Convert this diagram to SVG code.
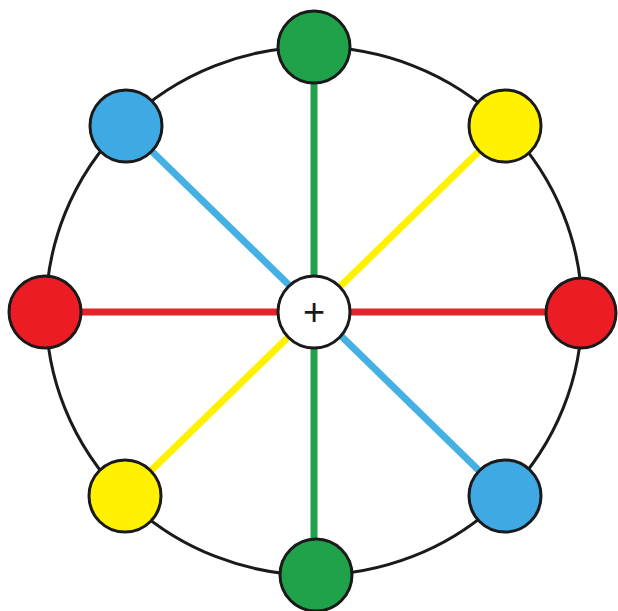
<svg xmlns="http://www.w3.org/2000/svg" width="618" height="611" viewBox="0 0 618 611">
<style>
.node{stroke:#1a1a1a;stroke-width:3}
.red{fill:#ec1c24}.green{fill:#1fa24a}.blue{fill:#3fa9e4}.yellow{fill:#fff100}
.ln{stroke-width:7;fill:none}
</style>
<rect width="618" height="611" fill="#fff"/>
<ellipse cx="314" cy="311" rx="268" ry="264" fill="none" stroke="#1a1a1a" stroke-width="3"/>
<g id="connectors">
<line class="ln" x1="45" y1="312" x2="581" y2="312" stroke="#e3242b"/>
<line class="ln" x1="314" y1="48" x2="314" y2="575" stroke="#1fa24a"/>
<line class="ln" x1="126" y1="126" x2="505" y2="496" stroke="#45b0e3" stroke-width="8"/>
<line class="ln" x1="505" y1="126" x2="125" y2="496" stroke="#fff100"/>
</g>
<g id="n-top"><circle class="node green" cx="314" cy="47" r="36"/></g>
<g id="n-bottom"><circle class="node green" cx="316" cy="575" r="36"/></g>
<g id="n-left"><circle class="node red" cx="45" cy="312" r="36"/></g>
<g id="n-right"><circle class="node red" cx="581" cy="313" r="35"/></g>
<g id="n-tl"><circle class="node blue" cx="126" cy="126" r="36"/></g>
<g id="n-tr"><circle class="node yellow" cx="505" cy="126" r="36"/></g>
<g id="n-bl"><circle class="node yellow" cx="125" cy="496" r="36"/></g>
<g id="n-br"><circle class="node blue" cx="505" cy="496" r="36"/></g>
<g id="n-center">
<circle cx="314" cy="312" r="36" fill="#fff" stroke="#1a1a1a" stroke-width="3"/>
<text x="314" y="325" font-family="Liberation Sans, Arial, sans-serif" font-size="38" text-anchor="middle" fill="#1a1a1a">+</text>
</g>
</svg>
